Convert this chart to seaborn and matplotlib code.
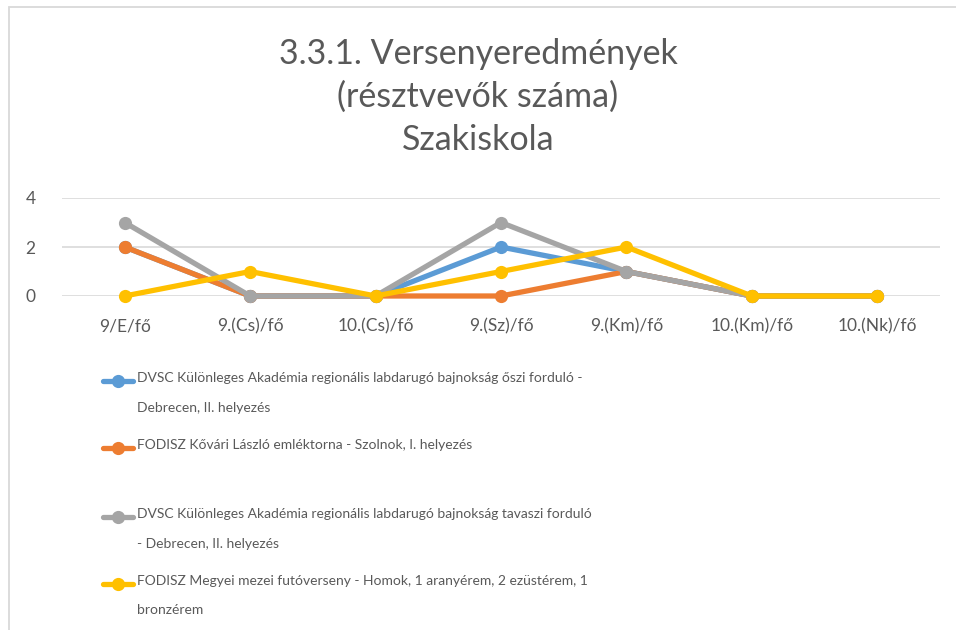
import matplotlib.pyplot as plt
import matplotlib.patches as mpatches
from matplotlib.lines import Line2D
import seaborn as sns
import pandas as pd

categories = ["9/E/fő", "9.(Cs)/fő", "10.(Cs)/fő", "9.(Sz)/fő", "9.(Km)/fő", "10.(Km)/fő", "10.(Nk)/fő"]
series_names = [
    "DVSC Különleges Akadémia regionális labdarugó bajnokság őszi forduló -\nDebrecen, II. helyezés",
    "FODISZ Kővári László emléktorna - Szolnok, I. helyezés",
    "DVSC Különleges Akadémia regionális labdarugó bajnokság tavaszi forduló\n- Debrecen, II. helyezés",
    "FODISZ Megyei mezei futóverseny - Homok, 1 aranyérem, 2 ezüstérem, 1\nbronzérem",
]
dvsc_oszi = [2, 0, 0, 2, 1, 0, 0]
fodisz_kovari = [2, 0, 0, 0, 1, 0, 0]
dvsc_tavaszi = [3, 0, 0, 3, 1, 0, 0]
fodisz_megyei = [0, 1, 0, 1, 2, 0, 0]
y_ticks = [0, 2, 4]

colors = ["#5B9BD5", "#ED7D31", "#A5A5A5", "#FFC000"]
text_color = "#595959"

sns.set_style("white")
plt.rcParams["font.family"] = ["Lato", "DejaVu Sans"]

rows = []
for name, vals in zip(series_names, [dvsc_oszi, fodisz_kovari, dvsc_tavaszi, fodisz_megyei]):
    for c, v in zip(categories, vals):
        rows.append({"cat": c, "val": v, "series": name})
df = pd.DataFrame(rows)

fig = plt.figure(figsize=(9.56, 6.30), dpi=100)
ax = fig.add_axes([62 / 956, 1 - 296 / 630, 878 / 956, 98 / 630])

sns.lineplot(data=df, x="cat", y="val", hue="series", hue_order=series_names,
             palette=colors, marker="o", markersize=9.5, markeredgewidth=0,
             linewidth=3.8, sort=False, legend=False, ax=ax, clip_on=False)

ax.set_xlim(-0.5, len(categories) - 0.5)
ax.set_ylim(0, 4)
ax.set_yticks(y_ticks)
ax.grid(axis="y", color="#D9D9D9", linewidth=1.2)
ax.set_axisbelow(True)
for s in ax.spines.values():
    s.set_visible(False)
ax.set_xlabel("")
ax.set_ylabel("")
ax.tick_params(axis="both", length=0, labelsize=12.5, colors=text_color)
ax.tick_params(axis="x", pad=16)
ax.tick_params(axis="y", pad=19)

fig.text(0.5, 1 - 97 / 630, "3.3.1. Versenyeredmények\n(résztvevők száma)\nSzakiskola",
         ha="center", va="center", fontsize=24.5, color=text_color, linespacing=1.42)

# manual legend, handle aligned with first text line
legend_y = [381, 448, 517, 584]
for name, col, yy in zip(series_names, colors, legend_y):
    fy = 1 - yy / 630
    fig.add_artist(Line2D([103 / 956, 133 / 956], [fy, fy], color=col, linewidth=3.8,
                          solid_capstyle="round", transform=fig.transFigure))
    fig.add_artist(Line2D([118 / 956], [fy], color=col, marker="o", markersize=9.5,
                          markeredgewidth=0, transform=fig.transFigure))
    fig.text(137 / 956, 1 - (yy - 9) / 630, name, ha="left", va="top", fontsize=10,
             color=text_color, linespacing=2.75, transform=fig.transFigure)

fig.add_artist(mpatches.Rectangle((8.5 / 956, -0.1), 2, 1.1 - 7.5 / 630,
                                  transform=fig.transFigure, fill=False,
                                  edgecolor="#D9D9D9", linewidth=1.3))

fig.savefig("out.png", dpi=100)
